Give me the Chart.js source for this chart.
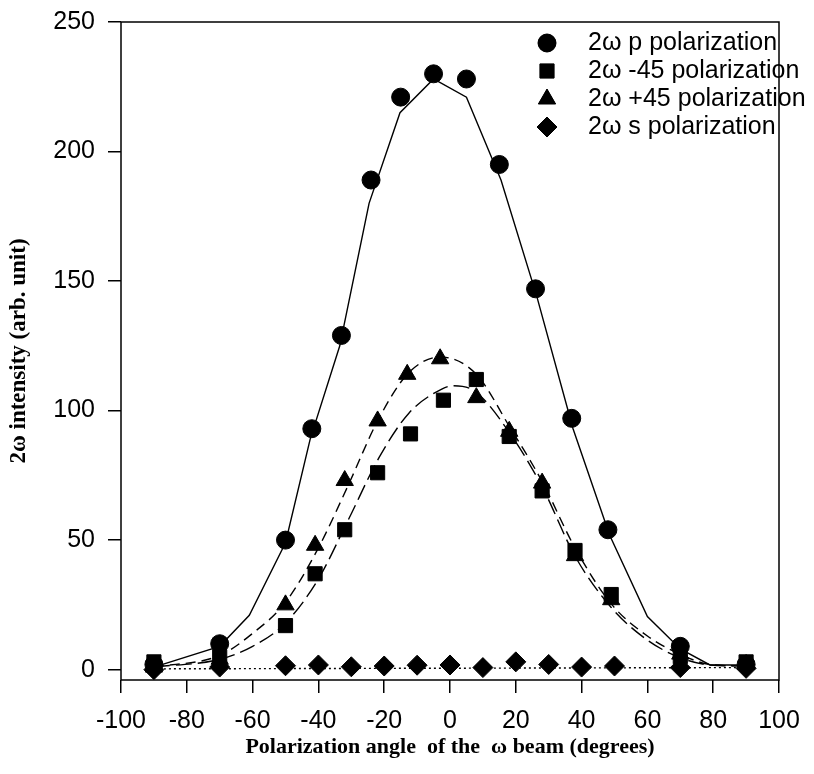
<!DOCTYPE html>
<html>
<head>
<meta charset="utf-8">
<script src="https://cdn.jsdelivr.net/npm/chart.js@4.4.0/dist/chart.umd.min.js"></script>
<style>
  html, body { margin: 0; padding: 0; background: #fff; }
</style>
</head>
<body>
<canvas id="graph" width="814" height="774"></canvas>
<script>
// measured points
const pAngle = [-90, -70, -50, -42, -33, -24, -15, -5, 5, 15, 26, 37, 48, 70, 90];
const pIntensity = [2, 10, 50, 93, 129, 189, 221, 230, 228, 195, 147, 97, 54, 9, 2];
const m45Angle = [-90, -70, -50, -41, -32, -22, -12, -2, 8, 18, 28, 38, 49, 70, 90];
const m45Intensity = [3, 5, 17, 37, 54, 76, 91, 104, 112, 90, 69, 46, 29, 5, 3];
const p45Angle = [-90, -70, -50, -41, -32, -22, -13, -3, 8, 18, 28, 38, 49, 70, 90];
const p45Intensity = [1, 4, 25, 48, 73, 96, 114, 120, 105, 92, 72, 44, 27, 6, 2];
const sAngle = [-90, -70, -50, -40, -30, -20, -10, 0, 10, 20, 30, 40, 50, 70, 90];
const sIntensity = [0, 1, 1.5, 1.8, 1.1, 1.4, 1.7, 1.8, 0.8, 3, 2, 1, 1.4, 0.8, 0.5];

// fitted curves
const pFitAngle = [-90, -70, -61, -50, -42.5, -33.5, -24.6, -15.2, -5, 5, 15.5, 26.4, 37.4, 48.5, 60, 70, 79, 90];
const pFitIntensity = [1, 9, 21, 49, 89, 125, 180, 215, 228, 221, 189, 144, 93, 52, 20.5, 8, 1.8, 1.8];
const p45FitAngle = [-90, -70, -60, -50, -40, -31, -22, -13, -3, 8, 18, 28, 38, 49, 60, 70, 79, 90];
const p45FitIntensity = [1, 5.5, 14, 26, 47, 71, 96, 114, 120.7, 114, 94, 72.6, 47, 25.4, 13, 5.9, 2, 1.4];
const m45FitAngle = [-90, -70, -60, -50, -40, -31, -21.5, -12.5, -2.5, 1, 7.6, 18, 28, 38, 49, 60, 70, 79, 90];
const m45FitIntensity = [1, 4, 9, 18, 35, 57.6, 82, 99, 108.3, 109.6, 107.4, 91.6, 70.6, 43.8, 24, 11.4, 4.6, 1.8, 1.4];
const sFitAngle = [-90, 90];
const sFitIntensity = [0.3, 0.8];

const seriesLabels = ['2ω p polarization', '2ω -45 polarization', '2ω +45 polarization', '2ω s polarization'];
const yTicks = [0, 50, 100, 150, 200, 250];

const toXY = (xs, ys) => xs.map((x, i) => ({ x: x, y: ys[i] }));

function markers(label, xs, ys, style, radius) {
  return {
    label: label,
    data: toXY(xs, ys),
    showLine: false,
    pointStyle: style,
    pointRadius: radius,
    pointHoverRadius: radius,
    backgroundColor: '#000',
    borderColor: '#000',
    pointBorderWidth: 1,
    order: 0
  };
}

function fitLine(xs, ys, dash, smooth) {
  return {
    label: '',
    fit: true,
    data: toXY(xs, ys),
    showLine: true,
    pointRadius: 0,
    borderColor: '#000',
    borderWidth: 1.4,
    borderDash: dash,
    cubicInterpolationMode: smooth ? 'monotone' : 'default',
    tension: 0,
    order: 1
  };
}

const frame = {
  id: 'frame',
  afterDatasetsDraw(chart) {
    const { ctx, chartArea: a } = chart;
    ctx.save();
    ctx.strokeStyle = '#000';
    ctx.lineWidth = 1.5;
    ctx.strokeRect(a.left, a.top, a.right - a.left, a.bottom - a.top);
    ctx.restore();
  }
};

const legendBox = {
  id: 'legendBox',
  afterDraw(chart) {
    const ctx = chart.ctx;
    const sets = chart.data.datasets.filter(d => !d.fit);
    ctx.save();
    ctx.font = '25px "Liberation Sans", Arial, sans-serif';
    ctx.textBaseline = 'middle';
    ctx.fillStyle = '#000';
    sets.forEach((d, i) => {
      const y = 43 + i * 28;
      Chart.helpers.drawPoint(ctx, {
        pointStyle: d.pointStyle, radius: d.pointRadius, borderWidth: 1, rotation: 0
      }, 547, y);
      ctx.fillStyle = '#000';
      ctx.fill();
      ctx.fillText(seriesLabels[i], 588, y);
    });
    ctx.restore();
  }
};

const config = {
  type: 'scatter',
  data: {
    datasets: [
      markers(seriesLabels[0], pAngle, pIntensity, 'circle', 9),
      markers(seriesLabels[1], m45Angle, m45Intensity, 'rect', 10),
      markers(seriesLabels[2], p45Angle, p45Intensity, 'triangle', 10),
      markers(seriesLabels[3], sAngle, sIntensity, 'rectRot', 10),
      fitLine(pFitAngle, pFitIntensity, [], false),
      fitLine(m45FitAngle, m45FitIntensity, [16, 6], true),
      fitLine(p45FitAngle, p45FitIntensity, [10, 6], true),
      fitLine(sFitAngle, sFitIntensity, [2, 3], false)
    ]
  },
  options: {
    responsive: false,
    animation: false,
    layout: { padding: { left: 0, right: 35, top: 22, bottom: 0 } },
    plugins: { legend: { display: false }, tooltip: { enabled: false } },
    scales: {
      x: {
        type: 'linear',
        min: -100,
        max: 100,
        border: { display: false },
        grid: { drawOnChartArea: false, drawTicks: true, tickLength: 13, color: '#000', lineWidth: 1.5 },
        ticks: { stepSize: 20, color: '#000', padding: 13, maxRotation: 0,
                 font: { family: '"Liberation Sans", Arial, sans-serif', size: 25 } },
        title: {
          display: true,
          text: 'Polarization angle  of the  ω beam (degrees)',
          color: '#000',
          padding: { top: 0, bottom: 13 },
          font: { family: '"Liberation Serif", "Times New Roman", serif', size: 22, weight: 'bold' }
        },
        afterFit(scale) { scale.height = 94; }
      },
      y: {
        type: 'linear',
        min: -4,
        max: 250,
        border: { display: false },
        grid: { drawOnChartArea: false, drawTicks: true, tickLength: 13, color: '#000', lineWidth: 1.5 },
        afterBuildTicks(scale) { scale.ticks = yTicks.map(v => ({ value: v })); },
        ticks: { color: '#000', padding: 13,
                 font: { family: '"Liberation Sans", Arial, sans-serif', size: 25 } },
        title: {
          display: true,
          text: '2ω intensity (arb. unit)',
          color: '#000',
          padding: { top: 5, bottom: 0 },
          font: { family: '"Liberation Serif", "Times New Roman", serif', size: 23, weight: 'bold' }
        },
        afterFit(scale) {
          scale.width = 121;
          scale.paddingTop = 0;
          scale.paddingBottom = 0;
        }
      }
    }
  },
  plugins: [frame, legendBox]
};

new Chart(document.getElementById('graph').getContext('2d'), config);
</script>
</body>
</html>
